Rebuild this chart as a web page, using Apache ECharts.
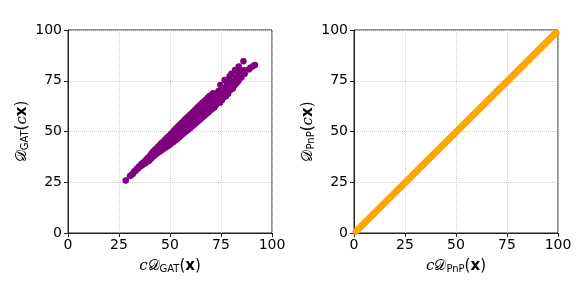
<!DOCTYPE html>
<html><head><meta charset="utf-8">
<script src="https://cdn.jsdelivr.net/npm/echarts@6/dist/echarts.min.js"></script>
<style>html,body{margin:0;padding:0;background:#fff}#c{width:588px;height:294px}</style>
</head><body><div id="c"></div>
<script>
const ticks = [0, 25, 50, 75, 100];
// left panel: c*D_GAT(x) vs D_GAT(cx)
const gatPoints = [
[28.3,25.9],[30.4,28.1],[31.2,28.7],[31.8,29.2],[32.5,30.4],[33.1,30.6],[33.7,31.6],[34.2,31.7],[34.8,32.8],[35.3,32.6],[35.9,33.9],[36.3,33.4],[36.8,34.6],[37.2,34.0],[37.6,35.4],[38.0,34.5],[38.5,36.3],[38.9,35.2],[39.3,37.1],[39.7,35.6],[40.1,37.9],[40.4,36.4],
[40.8,38.9],[41.0,36.9],[41.5,39.8],[41.9,37.8],[42.2,40.5],[42.6,38.4],[42.9,41.3],[43.3,39.0],[43.6,40.6],[44.0,42.4],[44.3,39.6],[44.7,41.6],[45.0,43.4],[45.3,40.4],[45.6,42.2],[45.9,44.3],[46.2,41.0],[46.5,43.0],[46.8,45.1],[47.1,41.6],[47.4,43.8],[47.7,46.0],[48.0,42.3],[48.3,44.6],[48.6,47.0],[48.9,42.9],[49.2,45.4],[49.5,47.8],[49.8,43.5],[50.1,46.2],[50.4,48.6],[50.7,44.2],[51.0,47.0],[51.3,49.6],[51.6,44.8],
[51.9,47.8],[52.2,50.8],[52.5,45.6],[52.8,48.6],[53.1,51.6],[53.4,46.2],[53.7,49.2],[54.0,52.6],[54.3,47.1],[54.6,50.1],[54.9,53.5],[55.2,47.8],[55.5,51.0],[55.8,54.3],[56.1,48.6],[56.4,51.8],[56.7,55.2],[57.0,49.4],[57.3,52.6],[57.6,56.2],[57.9,50.1],[58.2,53.4],[58.5,57.0],[58.8,50.8],[59.1,54.2],[59.5,57.9],[59.8,51.6],[60.1,55.0],
[60.4,58.8],[60.7,52.5],[61.0,55.8],[61.3,59.6],[61.6,53.2],[61.9,56.6],[62.2,60.5],[62.5,54.0],[62.8,57.4],[63.1,61.4],[63.4,54.8],[63.7,58.2],[64.0,62.3],[64.3,55.6],[64.6,59.0],[64.9,63.2],[65.2,56.4],[65.5,59.8],[65.8,64.0],[66.1,57.2],[66.4,60.6],[66.7,64.8],[67.0,57.9],[67.3,61.4],[67.6,65.7],[67.9,58.7],[68.2,62.2],[68.5,66.6],[68.8,59.5],[69.1,63.0],[69.4,67.5],[69.7,60.3],[70.0,64.0],
[70.4,68.0],[70.8,61.2],[71.1,68.9],[71.4,65.0],[71.8,62.0],[72.2,66.6],[72.6,63.2],[73.0,68.6],[73.4,64.4],[73.8,70.0],[74.2,66.0],[74.7,72.9],[74.5,64.2],[75.0,68.0],[75.4,65.4],[75.8,70.6],[76.2,66.8],[76.8,75.4],[76.6,69.0],[77.0,71.6],[77.4,67.4],[77.9,70.0],[78.3,72.6],[78.5,68.6],[79.0,74.5],[79.2,77.2],[79.6,70.4],[80.1,78.4],[80.4,73.0],[80.8,71.2],
[81.2,75.0],[81.9,80.3],[81.6,72.6],[82.3,76.6],[82.6,73.8],[83.2,78.0],[83.7,82.0],[83.6,75.0],[84.2,77.4],[84.5,79.8],[85.0,76.6],[85.3,78.6],[86.0,84.6],[86.2,80.2],[86.6,78.4],[88.6,80.6],[89.4,81.4],[90.6,82.2],[91.6,82.8],
[53.0,48.0],[55.0,49.6],[57.0,51.2],[59.0,52.8],[61.0,54.2],[63.0,56.0],[65.0,58.0],[67.0,59.6],[69.0,61.6],[71.0,63.6],[73.0,65.6],[75.0,67.0],[77.0,68.8],[79.0,71.6],
[54.0,50.8],[56.0,52.6],[58.0,55.2],[60.0,56.8],[62.0,58.6],[64.0,60.6],[66.0,62.4],[68.0,64.2],[70.0,66.2],[72.0,67.6],[74.0,68.8],[76.0,71.2],[78.0,74.0],[80.0,74.8]
];
// right panel: c*D_PnP(x) vs D_PnP(cx) (identity)
const pnpPoints = [[1.0,0.8],[99.0,98.6]];

const purple = '#800080', orange = '#FFA500';
const tickFont = {color:'#000', fontSize:14, fontFamily:'DejaVu Sans'};
const rich = {
  c:{fontFamily:'DejaVu Serif', fontStyle:'italic', fontSize:15, color:'#000'},
  d:{fontFamily:'DejaVu Sans', fontSize:15, color:'#000'},
  s:{fontFamily:'DejaVu Sans', fontSize:10, color:'#000', verticalAlign:'bottom', padding:[6,0,0,0]},
  p:{fontFamily:'DejaVu Sans', fontSize:15, color:'#000'},
  b:{fontFamily:'DejaVu Sans', fontWeight:'bold', fontSize:15, color:'#000'}
};
function mkX(idx, sub){
  return {gridIndex:idx, type:'value', min:0, max:100, interval:25,
    name:'{c|c}{d|𝒟}{s|'+sub+'}{p|(}{b|x}{p|)}', nameLocation:'middle', nameGap:25,
    nameTextStyle:{rich:rich},
    axisLine:{show:true, onZero:false, lineStyle:{color:'#222'}},
    axisTick:{show:true, length:4, lineStyle:{color:'#222'}},
    axisLabel:Object.assign({margin:5}, tickFont),
    splitLine:{show:true, lineStyle:{color:'#cfcfcf', type:'dotted'}}};
}
function mkY(idx, sub){
  return {gridIndex:idx, type:'value', min:0, max:100, interval:25,
    name:'{d|𝒟}{s|'+sub+'}{p|(}{c|c}{b|x}{p|)}', nameLocation:'middle', nameGap:38, nameRotate:90,
    nameTextStyle:{rich:rich},
    axisLine:{show:true, onZero:false, lineStyle:{color:'#222'}},
    axisTick:{show:true, length:4, lineStyle:{color:'#222'}},
    axisLabel:Object.assign({margin:6}, tickFont),
    splitLine:{show:true, lineStyle:{color:'#cfcfcf', type:'dotted'}}};
}
const chart = echarts.init(document.getElementById('c'), null, {renderer:'canvas'});
chart.setOption({
  animation:false,
  grid:[
    {left:68, top:30, width:204, height:203, show:true, borderColor:'#222', borderWidth:1, backgroundColor:'transparent'},
    {left:354, top:30, width:204, height:203, show:true, borderColor:'#222', borderWidth:1, backgroundColor:'transparent'}
  ],
  xAxis:[mkX(0,'GAT'), mkX(1,'PnP')],
  yAxis:[mkY(0,'GAT'), mkY(1,'PnP')],
  series:[
    {type:'scatter', xAxisIndex:0, yAxisIndex:0, data:gatPoints, symbolSize:6.5,
     itemStyle:{color:purple, opacity:1}},
    {type:'line', xAxisIndex:1, yAxisIndex:1, data:pnpPoints, showSymbol:false, symbol:'none',
     lineStyle:{color:orange, width:7, cap:'round'}, clip:true}
  ]
});
</script></body></html>
